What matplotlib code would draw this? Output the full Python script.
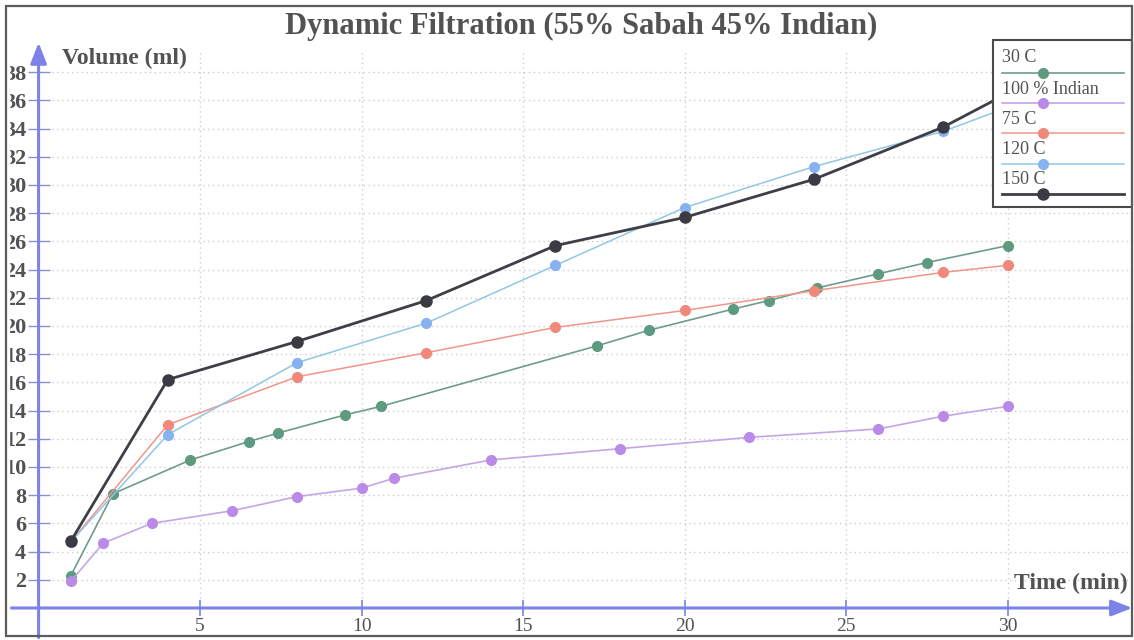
import matplotlib
matplotlib.use('Agg')
import matplotlib.pyplot as plt
from matplotlib.patches import Rectangle
from matplotlib.lines import Line2D

# filtrate volume (ml) against time (min)
time_30 = [1, 2.3, 4.7, 6.5, 7.4, 9.5, 10.6, 17.3, 18.9, 21.5, 22.6, 24.1, 26, 27.5, 30]
vol_30 = [2.3, 8.1, 10.5, 11.8, 12.4, 13.7, 14.3, 18.6, 19.7, 21.2, 21.8, 22.7, 23.7, 24.5, 25.7]

time_indian = [1, 2, 3.5, 6, 8, 10, 11, 14, 18, 22, 26, 28, 30]
vol_indian = [1.9, 4.6, 6.0, 6.9, 7.9, 8.5, 9.2, 10.5, 11.3, 12.1, 12.7, 13.6, 14.3]

time_75 = [1, 4, 8, 12, 16, 20, 24, 28, 30]
vol_75 = [4.7, 13.0, 16.4, 18.1, 19.9, 21.1, 22.5, 23.8, 24.3]

time_120 = [1, 4, 8, 12, 16, 20, 24, 28, 30]
vol_120 = [4.7, 12.3, 17.4, 20.2, 24.3, 28.4, 31.3, 33.8, 35.5]

time_150 = [1, 4, 8, 12, 16, 20, 24, 28, 30]
vol_150 = [4.75, 16.2, 18.9, 21.8, 25.7, 27.7, 30.4, 34.1, 36.5]

series_labels = ['30 C', '100 % Indian', '75 C', '120 C', '150 C']
x_ticks = [5, 10, 15, 20, 25, 30]
y_ticks = list(range(2, 40, 2))

W, H = 1134, 640
SERIF = 'Liberation Serif'
TXT = '#525252'
AXIS = '#7d82e6'
GRID = '#cdcdcd'

styles = [
    dict(color='#6f9c8a', mfc='#5e9a80', lw=1.2, ms=7),
    dict(color='#c4a6e4', mfc='#b98ae8', lw=1.2, ms=7),
    dict(color='#f0958c', mfc='#f0897a', lw=1.1, ms=7),
    dict(color='#92c6e6', mfc='#86b2f2', lw=1.1, ms=7),
    dict(color='#3e3e46', mfc='#3a3a42', lw=2.0, ms=8),
]
data = [(time_30, vol_30), (time_indian, vol_indian), (time_75, vol_75),
        (time_120, vol_120), (time_150, vol_150)]

fig = plt.figure(figsize=(W / 100, H / 100), dpi=100)
ax = fig.add_axes([0, 0, 1, 1])
ax.set_xlim(-1.195, 33.913)
ax.set_ylim(-2.27, 43.12)

for side in ['top', 'right', 'left', 'bottom']:
    ax.spines[side].set_visible(False)
ax.spines['left'].set_position(('data', 0))
ax.spines['bottom'].set_position(('data', 0))

# dotted grid, only inside the quadrant
ax.hlines(y_ticks, 0.4, 33.9, colors=GRID, linestyles=(0, (1, 2.5)), lw=1, zorder=1)
ax.vlines(x_ticks, 0, 39.6, colors=GRID, linestyles=(0, (1, 2.5)), lw=1, zorder=1)

# axis lines with arrow heads
arrow = dict(arrowstyle='-|>,head_length=0.9,head_width=0.35', color=AXIS, lw=2.2,
             shrinkA=0, shrinkB=0, mutation_scale=14)
ax.annotate('', xy=(0, 40.1), xytext=(0, -2.1), arrowprops=arrow, annotation_clip=False, zorder=2)
ax.annotate('', xy=(33.86, 0), xytext=(-1.0, 0), arrowprops=arrow, annotation_clip=False, zorder=2)

ax.set_xticks(x_ticks)
ax.set_xticklabels([str(t) for t in x_ticks], family=SERIF, fontsize=14, color=TXT)
ax.set_yticks(y_ticks)
ax.set_yticklabels([str(t) for t in y_ticks], family=SERIF, fontsize=16, color=TXT,
                   fontweight='bold')
ax.tick_params(axis='x', direction='inout', length=12, width=1.2, color=AXIS, pad=1)
ax.tick_params(axis='y', direction='inout', length=16, width=1.0, color='#8d90c8', pad=1)

for (t, v), st in zip(data, styles):
    ax.plot(t, v, color=st['color'], lw=st['lw'], marker='o', ms=st['ms'],
            mfc=st['mfc'], mec=st['mfc'], zorder=3)

fig.text(581 / W, 1 - 26 / H, 'Dynamic Filtration (55% Sabah 45% Indian)', family=SERIF,
         fontsize=22, fontweight='bold', color=TXT, ha='center', va='center')
fig.text(62 / W, 1 - 58 / H, 'Volume (ml)', family=SERIF, fontsize=17,
         fontweight='bold', color=TXT, ha='left', va='center')
fig.text(1128 / W, 1 - 583 / H, 'Time (min)', family=SERIF, fontsize=17,
         fontweight='bold', color=TXT, ha='right', va='center')

# legend: label above a sample line with its marker
fig.add_artist(Rectangle((993 / W, 1 - 207 / H), 139 / W, 167 / H, transform=fig.transFigure,
                         fc='white', ec='#4a4a4a', lw=1.5, zorder=5))
text_y = [58, 89, 119, 150, 180]
line_y = [73, 103, 133, 164, 194]
for lab, st, ty, ly in zip(series_labels, styles, text_y, line_y):
    fig.add_artist(Line2D([1002 / W, 1124 / W], [1 - ly / H] * 2, color=st['color'],
                          lw=st['lw'], transform=fig.transFigure, zorder=6))
    fig.add_artist(Line2D([1043 / W], [1 - ly / H], marker='o', ms=st['ms'], mfc=st['mfc'],
                          mec=st['mfc'], transform=fig.transFigure, zorder=7))
    fig.text(1002 / W, 1 - ty / H, lab, family=SERIF, fontsize=13, color=TXT,
             ha='left', va='center', zorder=7)

# page border
fig.add_artist(Rectangle((0, 0), 9 / W, 1, transform=fig.transFigure, color='white', zorder=8))
fig.add_artist(Rectangle((6 / W, 4 / H), 1126 / W, 630 / H, transform=fig.transFigure,
                         fill=False, ec='#5c5c5c', lw=1.6, zorder=9))

fig.savefig('out.png', dpi=100)
